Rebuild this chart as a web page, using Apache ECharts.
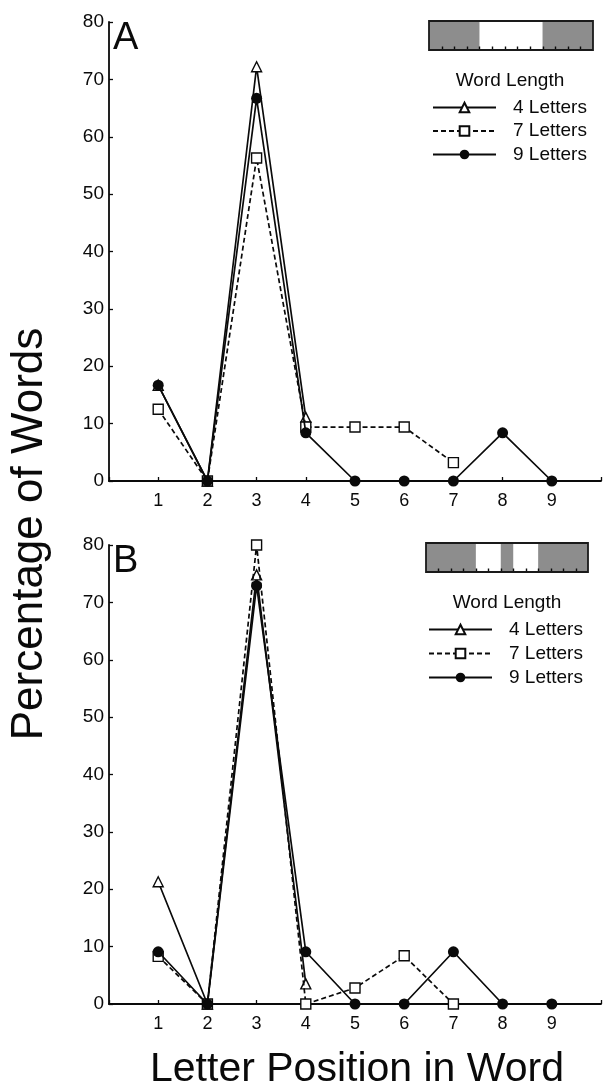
<!DOCTYPE html>
<html>
<head>
<meta charset="utf-8">
<script src="https://cdn.jsdelivr.net/npm/echarts@6/dist/echarts.min.js"></script>
<style>
html,body{margin:0;padding:0;background:#fff;}
#chart{width:604px;height:1088px;}
</style>
</head>
<body>
<div id="chart"></div>
<script>
// ---- data ----
const positions = [1, 2, 3, 4, 5, 6, 7, 8, 9];
const yTicks = [0, 10, 20, 30, 40, 50, 60, 70, 80];
const seriesNames = ['4 Letters', '7 Letters', '9 Letters'];
// Panel A
const a4 = [16.7, 0, 72.2, 11.1];
const a7 = [12.5, 0, 56.3, 9.4, 9.4, 9.4, 3.2];
const a9 = [16.7, 0, 66.7, 8.4, 0, 0, 0, 8.4, 0];
// Panel B
const b4 = [21.3, 0, 74.8, 3.5];
const b7 = [8.3, 0, 80.0, 0, 2.8, 8.4, 0];
const b9 = [9.1, 0, 72.9, 9.1, 0, 0, 9.1, 0, 0];
// Inset diagrams: 13 letter cells, white windows [from, to] in cell units
const insetCells = 13;
const insetAWindows = [[4, 9]];
const insetBWindows = [[4, 6], [7, 9]];

const FONT = '"Liberation Sans", Arial, Helvetica, sans-serif';
const INK = '#0a0a0a';
const chart = echarts.init(document.getElementById('chart'), null, {renderer: 'canvas'});

function pairs(arr) { return arr.map((v, i) => [positions[i], v]); }

const grids = [
  {left: 109, top: 22, width: 497, height: 459},
  {left: 109, top: 545, width: 497, height: 459}
];

function xAxis(i) {
  return {
    type: 'value', gridIndex: i, min: 0, max: 10, interval: 1,
    axisLine: {show: true, lineStyle: {color: INK, width: 1.8}},
    axisTick: {show: true, inside: true, length: 4, lineStyle: {color: INK, width: 1.3}},
    axisLabel: {
      color: INK, fontFamily: FONT, fontSize: 18, margin: 11,
      formatter: v => (positions.indexOf(v) >= 0 ? String(v) : '')
    },
    splitLine: {show: false}
  };
}
function yAxis(i) {
  return {
    type: 'value', gridIndex: i, min: 0, max: 80, interval: 10,
    axisLine: {show: true, lineStyle: {color: INK, width: 1.8}},
    axisTick: {show: true, inside: true, length: 4, lineStyle: {color: INK, width: 1.3}},
    axisLabel: {color: INK, fontFamily: FONT, fontSize: 19, margin: 5,
      formatter: v => (yTicks.indexOf(v) >= 0 ? String(v) : '')},
    splitLine: {show: false}
  };
}

function mkSeries(name, data, gi) {
  const base = {
    name: name, type: 'line', xAxisIndex: gi, yAxisIndex: gi,
    data: pairs(data), clip: false, animation: false
  };
  if (name === '4 Letters') {
    return Object.assign(base, {
      symbol: 'triangle', symbolSize: 10, z: 2,
      lineStyle: {color: INK, width: 1.7, type: 'solid'},
      itemStyle: {color: '#fff', borderColor: INK, borderWidth: 1.4}
    });
  } else if (name === '7 Letters') {
    return Object.assign(base, {
      symbol: 'rect', symbolSize: 10, z: 3,
      lineStyle: {color: INK, width: 1.7, type: [5, 3]},
      itemStyle: {color: '#fff', borderColor: INK, borderWidth: 1.4}
    });
  }
  return Object.assign(base, {
    symbol: 'circle', symbolSize: 11, z: 4,
    lineStyle: {color: INK, width: 1.7, type: 'solid'},
    itemStyle: {color: INK, borderColor: INK, borderWidth: 0}
  });
}

const series = [
  mkSeries('4 Letters', a4, 0), mkSeries('7 Letters', a7, 0), mkSeries('9 Letters', a9, 0),
  mkSeries('4 Letters', b4, 1), mkSeries('7 Letters', b7, 1), mkSeries('9 Letters', b9, 1)
];

function legend(left, top, gap) {
  return {
    data: seriesNames, orient: 'vertical', left: left, top: top,
    itemWidth: 63, itemHeight: 12, itemGap: gap, padding: 0,
    selectedMode: false,
    textStyle: {color: INK, fontFamily: FONT, fontSize: 19, padding: [0, 0, 0, 12]}
  };
}

function inset(x0, y0, w, h, windows) {
  const cell = w / insetCells;
  const els = [];
  els.push({type: 'rect', shape: {x: x0, y: y0, width: w, height: h}, style: {fill: '#8d8d8d'}});
  windows.forEach(wd => {
    els.push({type: 'rect', shape: {x: x0 + wd[0] * cell, y: y0, width: (wd[1] - wd[0]) * cell, height: h}, style: {fill: '#fff'}});
  });
  for (let k = 1; k < insetCells; k++) {
    const x = Math.round(x0 + k * cell) + 0.5;
    els.push({type: 'line', shape: {x1: x, y1: y0 + h - 3.5, x2: x, y2: y0 + h}, style: {stroke: INK, lineWidth: 1.4}});
  }
  els.push({type: 'rect', shape: {x: x0, y: y0, width: w, height: h}, style: {fill: 'none', stroke: '#1a1a1a', lineWidth: 1.8}});
  return els;
}

const graphic = [].concat(
  inset(429, 21, 164, 29, insetAWindows),
  inset(426, 543, 162, 29, insetBWindows),
  [
    {type: 'text', left: 113, top: 20, style: {text: 'A', font: '38px ' + FONT, fill: INK}},
    {type: 'text', left: 113, top: 543, style: {text: 'B', font: '38px ' + FONT, fill: INK}},
    {type: 'text', x: 510, y: 81, style: {text: 'Word Length', font: '19px ' + FONT, fill: INK, textAlign: 'center', textVerticalAlign: 'middle'}},
    {type: 'text', x: 507, y: 603, style: {text: 'Word Length', font: '19px ' + FONT, fill: INK, textAlign: 'center', textVerticalAlign: 'middle'}},
    {type: 'text', x: 30, y: 534, rotation: Math.PI / 2, style: {text: 'Percentage of Words', font: '44px ' + FONT, fill: INK, textAlign: 'center', textVerticalAlign: 'middle'}},
    {type: 'text', x: 357, y: 1070, style: {text: 'Letter Position in Word', font: '41px ' + FONT, fill: INK, textAlign: 'center', textVerticalAlign: 'middle'}}
  ]
);

chart.setOption({
  backgroundColor: '#fff',
  animation: false,
  grid: grids,
  xAxis: [xAxis(0), xAxis(1)],
  yAxis: [yAxis(0), yAxis(1)],
  legend: [legend(432, 98, 4.5), legend(428, 620, 5)],
  series: series,
  graphic: graphic
});
</script>
</body>
</html>
